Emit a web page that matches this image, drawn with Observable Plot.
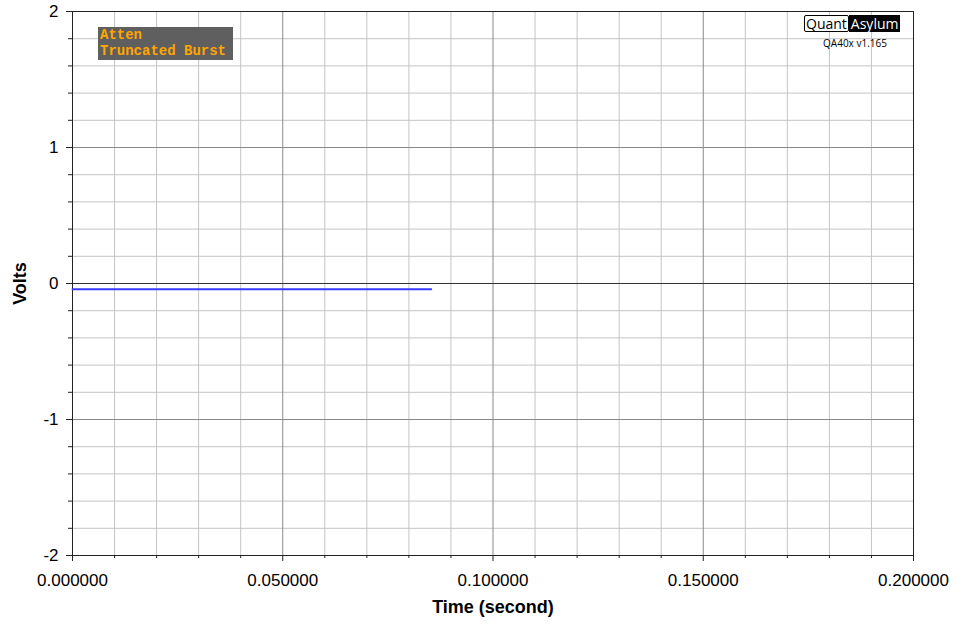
<!DOCTYPE html>
<html><head><meta charset="utf-8">
<script src="https://cdn.jsdelivr.net/npm/d3@7"></script>
<script src="https://cdn.jsdelivr.net/npm/@observablehq/plot@0.6"></script>
<style>
body{margin:0;background:#fff;}
#wrap{position:relative;width:965px;height:629px;font-family:"Liberation Sans",Arial,sans-serif;}
#note{position:absolute;left:98px;top:27px;width:133px;height:33px;background:#5f5f5f;color:#ffa500;
  font:bold 14px "Liberation Mono","DejaVu Sans Mono",monospace;line-height:16px;padding-left:2px;box-sizing:content-box;white-space:pre;}
#note div{height:16px;}
#logo{position:absolute;left:804px;top:15px;height:17px;display:flex;font:14px "Open Sans","Liberation Sans",sans-serif;line-height:15px;}
#logo .q{border:1px solid #000;border-radius:2px;background:#fff;color:#000;padding:0 1px;}
#logo .a{background:#000;color:#fff;padding:0 2px;line-height:17px;}
#ver{position:absolute;left:815px;top:36px;width:80px;text-align:center;font:10px "Open Sans","Liberation Sans",sans-serif;color:#000;}
</style></head><body>
<div id="wrap"></div>
<script>
// Data
const time = [0, 0.0853];
const volts = [-0.042, -0.042];
const xMajor = [0, 0.05, 0.1, 0.15, 0.2];
const xMinor = [0.01,0.02,0.03,0.04,0.06,0.07,0.08,0.09,0.11,0.12,0.13,0.14,0.16,0.17,0.18,0.19];
const yMajor = [-2, -1, 0, 1, 2];
const yMinor = [-1.8,-1.6,-1.4,-1.2,-0.8,-0.6,-0.4,-0.2,0.2,0.4,0.6,0.8,1.2,1.4,1.6,1.8];
const noteLines = ["Atten", "Truncated Burst"];
const xTitle = "Time (second)";
const yTitle = "Volts";

const data = time.map((t, i) => ({t, v: volts[i]}));

const chart = Plot.plot({
  width: 965, height: 629,
  marginLeft: 72, marginRight: 52, marginTop: 11, marginBottom: 74,
  style: {fontFamily: "'Liberation Sans', Arial, sans-serif", color: "#000", background: "#fff"},
  x: {domain: [0, 0.2]},
  y: {domain: [-2, 2]},
  marks: [
    Plot.gridX(xMinor, {stroke: "#c4c4c4", strokeOpacity: 1}),
    Plot.gridY(yMinor, {stroke: "#c4c4c4", strokeOpacity: 1}),
    Plot.gridX(xMajor, {stroke: "#8a8a8a", strokeOpacity: 1}),
    Plot.gridY(yMajor, {stroke: "#8a8a8a", strokeOpacity: 1}),
    Plot.ruleY([0], {stroke: "#333"}),
    Plot.frame({stroke: "#222"}),
    Plot.line(data, {x: "t", y: "v", stroke: "#3a3aff", strokeWidth: 2}),
    Plot.axisX(xMajor, {tickSize: 6, tickPadding: 12, tickFormat: d3.format(".6f"), fontSize: 17, label: null, stroke: "#222"}),
    Plot.axisX(xMinor, {tickSize: 3, tickFormat: () => "", label: null, stroke: "#222"}),
    Plot.axisY(yMajor, {tickSize: 6, tickPadding: 8, tickFormat: d => String(d), fontSize: 17, label: null, stroke: "#222"}),
    Plot.axisY(yMinor, {tickSize: 4, tickFormat: () => "", label: null, stroke: "#222"}),
    Plot.text([xTitle], {frameAnchor: "bottom", dy: 52, lineAnchor: "middle", textAnchor: "middle", fontWeight: "bold", fontSize: 18, fill: "#000"}),
    Plot.text([yTitle], {frameAnchor: "left", dx: -52, rotate: -90, lineAnchor: "middle", textAnchor: "middle", fontWeight: "bold", fontSize: 18, fill: "#000"})
  ]
});
const wrap = document.getElementById("wrap");
wrap.appendChild(chart);

const note = document.createElement("div");
note.id = "note";
noteLines.forEach(s => { const d = document.createElement("div"); d.textContent = s; note.appendChild(d); });
wrap.appendChild(note);

const logo = document.createElement("div");
logo.id = "logo";
logo.innerHTML = '<span class="q">Quant</span><span class="a">Asylum</span>';
wrap.appendChild(logo);
const ver = document.createElement("div");
ver.id = "ver";
ver.textContent = "QA40x v1.165";
wrap.appendChild(ver);
</script>
</body></html>
